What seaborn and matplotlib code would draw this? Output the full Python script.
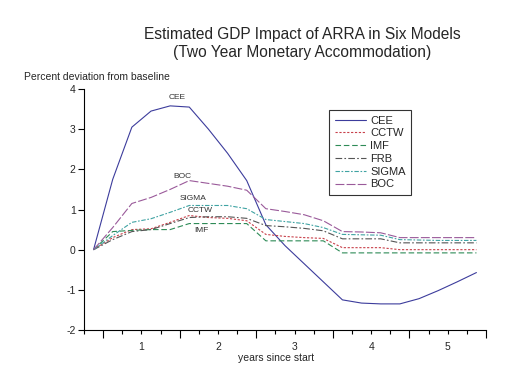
import numpy as np
import pandas as pd
import matplotlib
matplotlib.use("Agg")
import matplotlib.pyplot as plt
import seaborn as sns

# quarterly responses, plotted at quarter midpoints (years since start)
quarters = np.arange(21)
years = -0.125 + 0.25 * quarters

cee = [0, 1.75, 3.05, 3.45, 3.58, 3.55, 3.0, 2.4, 1.72, 0.62, 0.1, -0.35, -0.8,
       -1.25, -1.33, -1.35, -1.35, -1.22, -1.02, -0.8, -0.57]
cctw = [0, 0.3, 0.5, 0.52, 0.68, 0.85, 0.8, 0.78, 0.72, 0.38, 0.33, 0.3, 0.28,
        0.05, 0.05, 0.05, 0.0, 0.0, 0.0, 0.0, 0.0]
imf = [0, 0.45, 0.48, 0.5, 0.5, 0.65, 0.65, 0.65, 0.65, 0.22, 0.22, 0.22, 0.22,
       -0.08, -0.08, -0.08, -0.08, -0.08, -0.08, -0.08, -0.08]
frb = [0, 0.25, 0.45, 0.5, 0.65, 0.8, 0.82, 0.82, 0.78, 0.6, 0.57, 0.53, 0.47,
       0.27, 0.27, 0.27, 0.17, 0.17, 0.17, 0.17, 0.17]
sigma = [0, 0.35, 0.68, 0.77, 0.93, 1.1, 1.1, 1.1, 1.02, 0.75, 0.7, 0.65, 0.55,
         0.38, 0.37, 0.36, 0.25, 0.24, 0.23, 0.23, 0.23]
boc = [0, 0.55, 1.15, 1.3, 1.5, 1.72, 1.65, 1.58, 1.48, 1.02, 0.95, 0.87, 0.72,
       0.45, 0.44, 0.42, 0.3, 0.3, 0.3, 0.3, 0.3]

models = ["CEE", "CCTW", "IMF", "FRB", "SIGMA", "BOC"]
series = [cee, cctw, imf, frb, sigma, boc]
year_labels = ["1", "2", "3", "4", "5"]

palette = {"CEE": "#3c3c9c", "CCTW": "#c8404a", "IMF": "#2e8b57",
           "FRB": "#555555", "SIGMA": "#3fa3a3", "BOC": "#9a5a9a"}
dashes = {"CEE": "", "CCTW": (2, 1.5), "IMF": (5, 2.5), "FRB": (6, 2, 1.5, 2),
          "SIGMA": (4, 1.5, 1.5, 1.5), "BOC": (8, 2)}

df = pd.concat([pd.DataFrame({"year": years, "value": s, "model": m})
                for m, s in zip(models, series)], ignore_index=True)

sns.set_style("white")
plt.rcParams["font.family"] = ["Liberation Sans", "DejaVu Sans"]
plt.rcParams["axes.unicode_minus"] = False

fig = plt.figure(figsize=(5.12, 3.86), dpi=100)
ax = fig.add_axes([84 / 512, 1 - 330 / 386, 402 / 512, 241 / 386])

sns.lineplot(data=df, x="year", y="value", hue="model", style="model",
             hue_order=models, style_order=models, palette=palette,
             dashes=dashes, linewidth=0.8, ax=ax)

ax.set_xlim(-0.25, 5.0)
ax.set_ylim(-2, 4)
ax.set_yticks([-2, -1, 0, 1, 2, 3, 4])
ax.set_xticks(range(6))
ax.set_xticklabels([])
ax.set_xticks(np.arange(-0.25, 5.01, 0.25), minor=True)
ax.tick_params(axis="x", which="major", direction="out", length=6, width=0.8,
               color="black", bottom=True)
ax.tick_params(axis="x", which="minor", direction="out", length=3, width=0.8,
               color="black", bottom=True)
ax.tick_params(axis="y", direction="out", length=4, width=0.8, color="black",
               left=True, labelsize=7.5, pad=2)
for side in ["top", "right"]:
    ax.spines[side].set_visible(False)
for side in ["left", "bottom"]:
    ax.spines[side].set_color("black")
    ax.spines[side].set_linewidth(0.8)

# year labels centred between the yearly ticks
sec = ax.secondary_xaxis("bottom")
sec.set_xticks(np.arange(0.5, 5, 1.0), year_labels)
sec.tick_params(length=0, labelsize=7.5, pad=9)
sec.spines["bottom"].set_visible(False)

ax.set_xlabel("years since start", fontsize=7.5)
ax.xaxis.set_label_coords((276 - 84) / 402, -0.095)
ax.set_ylabel("")

# labels next to the curves
ax.text(0.97, 3.78, "CEE", fontsize=6, ha="center", va="center", color="#333333")
ax.text(1.04, 1.83, "BOC", fontsize=6, ha="center", va="center", color="#333333")
ax.text(1.17, 1.28, "SIGMA", fontsize=6, ha="center", va="center", color="#333333")
ax.text(1.27, 0.98, "CCTW", fontsize=6, ha="center", va="center", color="#333333")
ax.text(1.28, 0.48, "IMF", fontsize=6, ha="center", va="center", color="#333333")

handles, labels = ax.get_legend_handles_labels()
leg = ax.legend(handles, labels, loc="upper left",
                bbox_to_anchor=(329 / 512, 1 - 110 / 386),
                bbox_transform=fig.transFigure, fontsize=8, frameon=True,
                fancybox=False, handlelength=2.8, handletextpad=0.4,
                labelspacing=0.25, borderpad=0.5, borderaxespad=0)
leg.get_frame().set_edgecolor("black")
leg.get_frame().set_linewidth(0.8)

fig.text(24 / 512, 1 - 77 / 386, "Percent deviation from baseline",
         fontsize=7.5, ha="left", va="center")
fig.text(302 / 512, 1 - 34 / 386, "Estimated GDP Impact of ARRA in Six Models",
         fontsize=11.2, ha="center", va="center")
fig.text(302 / 512, 1 - 53 / 386, "(Two Year Monetary Accommodation)",
         fontsize=11.2, ha="center", va="center")

fig.savefig("out.png", dpi=100)
